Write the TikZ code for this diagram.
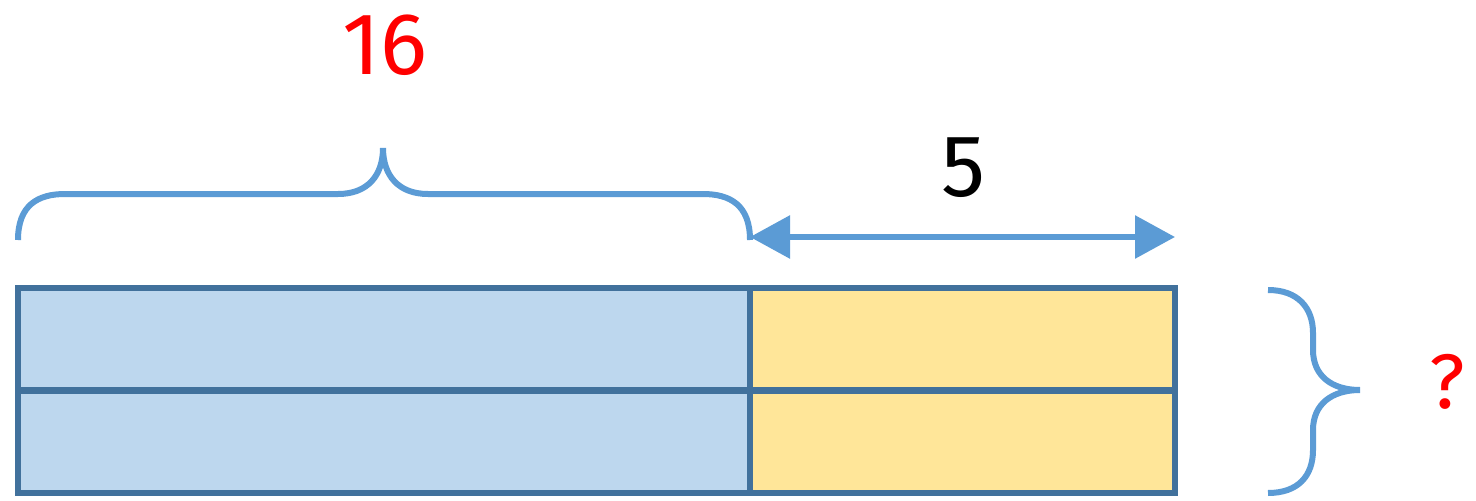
\documentclass[tikz,border=0pt]{standalone}
\usepackage{fontspec}
\setmainfont{Fira Sans}
\usetikzlibrary{arrows.meta}
\definecolor{barline}{HTML}{41719C}
\definecolor{barblue}{HTML}{BDD7EE}
\definecolor{baryellow}{HTML}{FFE699}
\definecolor{bracecol}{HTML}{5B9BD5}
\begin{document}
\begin{tikzpicture}[x=0.02cm,y=-0.02cm,
                    every cell/.style={draw=barline,line width=0.12cm,inner sep=0pt,outer sep=0pt,minimum height=2.05cm},
                    partcell/.style={every cell,fill=barblue,minimum width=14.64cm},
                    diffcell/.style={every cell,fill=baryellow,minimum width=8.5cm},
                    brace/.style={draw=bracecol,line width=0.12cm},
                    dimarrow/.style={draw=bracecol,line width=0.12cm,{Triangle[length=0.8cm,width=0.84cm]}-{Triangle[length=0.8cm,width=0.84cm]}},
                    bignum/.style={font=\fontsize{50}{60}\selectfont,inner sep=0pt}
]
\useasboundingbox (0,0) rectangle (1476,500);
% bars
\node [partcell] at (384,339.25) (p1) {};
\node [partcell] at (384,441.75) (p2) {};
\node [diffcell] at (962.5,339.25) (d1) {};
\node [diffcell] at (962.5,441.75) (d2) {};
%
\coordinate (b1) at (18,240);
\coordinate (b2) at (750,240);
\coordinate (btip) at (383,148);
\coordinate (a2) at (1175,237);
\coordinate (rtip) at (1360,390);
% brace over the first bar
\draw [brace] (b1) .. controls (18,205) and (38,194) .. (65,194) -- (338,194)
      .. controls (368,194) and (383,175) .. (btip)
      .. controls (383,175) and (398,194) .. (428,194) -- (703,194)
      .. controls (730,194) and (750,205) .. (b2);
\draw [dimarrow] (750,237) -- (a2);
% brace on the right of both bars
\draw [brace] (1268,290) .. controls (1298,290) and (1313,308) .. (1313,333) -- (1313,350)
      .. controls (1313,376) and (1332,390) .. (rtip)
      .. controls (1332,390) and (1313,404) .. (1313,430) -- (1313,450)
      .. controls (1313,476) and (1298,493) .. (1268,493);
%
\node [bignum,text=red] at (385,45) (total) {16};
\node [bignum] at (963,168) (diff) {5};
\node [bignum,text=red,font=\fontsize{44}{52}\selectfont] at (1447,382) (ask) {?};
\end{tikzpicture}
\end{document}
